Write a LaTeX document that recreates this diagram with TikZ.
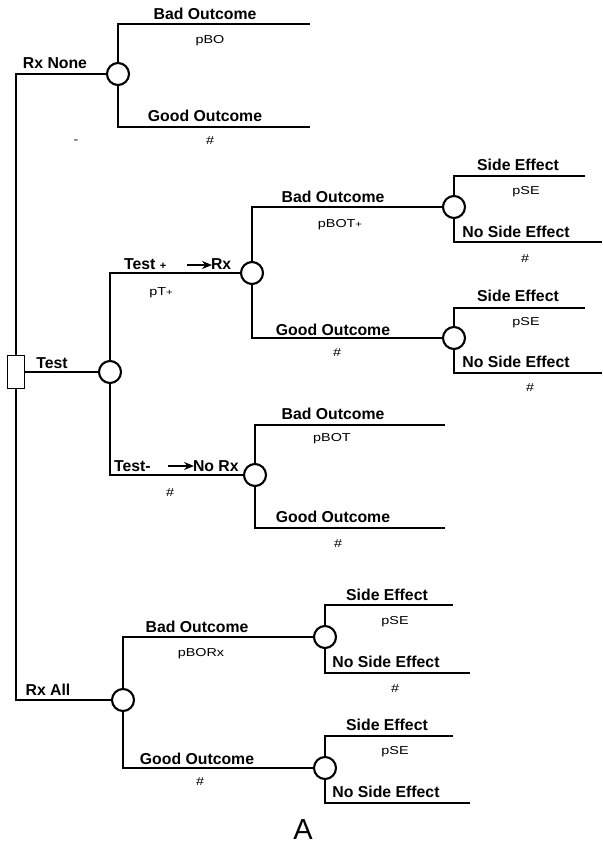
\documentclass[tikz,border=0pt]{standalone}
\usepackage{fontspec}
\setmainfont{Liberation Sans}
\newfontfamily\smallfam[FakeStretch=1.25]{Liberation Sans}
\usetikzlibrary{arrows.meta}
\begin{document}
\begin{tikzpicture}[x=1pt,y=-1pt,
  line width=2.1pt,
  chance/.style={circle,draw,fill=white,minimum size=22pt,inner sep=0pt,line width=2.1pt},
  decbox/.style={rectangle,draw,fill=white,minimum width=17pt,minimum height=33pt,inner sep=0pt,line width=1.9pt},
  lab/.style={font=\bfseries\fontsize{15.8}{17}\selectfont,inner sep=0pt},
  prob/.style={font=\smallfam\fontsize{11.5}{13}\selectfont,inner sep=0pt},
  arr/.style={line width=1.5pt,-{Stealth[length=10pt,width=8pt]}}]
\useasboundingbox (0,0) rectangle (602,845);
% nodes
\node[decbox] (dec) at (16,372) {};
\node[chance] (cNone) at (118,74) {};
\node[chance] (cTest) at (110,372) {};
\node[chance] (cTp) at (252,273) {};
\node[chance] (cTm) at (255,475) {};
\node[chance] (cAll) at (123,700) {};
\node[chance] (cTpB) at (454,207) {};
\node[chance] (cTpG) at (454,338) {};
\node[chance] (cAllB) at (325,637) {};
\node[chance] (cAllG) at (325,768) {};
% end points
\coordinate (eNoneB) at (310,24);
\coordinate (eNoneG) at (310,127);
\coordinate (eTpBs) at (585,176);
\coordinate (eTpBn) at (602,242);
\coordinate (eTpGs) at (585,308);
\coordinate (eTpGn) at (602,373);
\coordinate (eTmB) at (445,425);
\coordinate (eTmG) at (445,528);
\coordinate (eAllBs) at (453,605);
\coordinate (eAllBn) at (470,673);
\coordinate (eAllGs) at (453,736);
\coordinate (eAllGn) at (470,803);
% connectors
\draw (dec.north) |- (cNone.west);
\draw (dec.south) |- (cAll.west);
\draw (dec.east) -- (cTest.west);
\draw (cNone.north) |- (eNoneB);
\draw (cNone.south) |- (eNoneG);
\draw (cTest.north) |- (cTp.west);
\draw (cTest.south) |- (cTm.west);
\draw (cTp.north) |- (cTpB.west);
\draw (cTp.south) |- (cTpG.west);
\draw (cTpB.north) |- (eTpBs);
\draw (cTpB.south) |- (eTpBn);
\draw (cTpG.north) |- (eTpGs);
\draw (cTpG.south) |- (eTpGn);
\draw (cTm.north) |- (eTmB);
\draw (cTm.south) |- (eTmG);
\draw (cAll.north) |- (cAllB.west);
\draw (cAll.south) |- (cAllG.west);
\draw (cAllB.north) |- (eAllBs);
\draw (cAllB.south) |- (eAllBn);
\draw (cAllG.north) |- (eAllGs);
\draw (cAllG.south) |- (eAllGn);
% labels: Rx None branch
\node[lab] (lRxNone) at (55,63) {Rx None};
\node[lab] (lNoneB) at (205,14) {Bad Outcome};
\node[prob] (pNoneB) at (210,41) {pBO};
\node[lab] (lNoneG) at (205,116) {Good Outcome};
\node[prob] (pNoneG) at (210,141) {\#};
\node[prob] (dash) at (76,142) {-};
% Test branch
\node[lab] (lTest) at (52,363) {Test};
\node[lab,anchor=west] (lTp) at (123,264) {Test {\fontsize{11}{12}\selectfont +}};
\coordinate (aTp1) at (187,265);
\coordinate (aTp2) at (212,265);
\draw[arr] (aTp1) -- (aTp2);
\node[lab,anchor=west] (lRx) at (210,264) {Rx};
\node[prob] (pTp) at (161,293) {pT{\fontsize{9}{10}\selectfont +}};
\node[lab] (lTpB) at (333,197) {Bad Outcome};
\node[prob] (pTpB) at (340,225) {pBOT{\fontsize{9}{10}\selectfont +}};
\node[lab] (lTpG) at (333,330) {Good Outcome};
\node[prob] (pTpG) at (337,353) {\#};
\node[lab] (lTpBs) at (518,165) {Side Effect};
\node[prob] (pTpBs) at (526,192) {pSE};
\node[lab] (lTpBn) at (516,232) {No Side Effect};
\node[prob] (pTpBn) at (525,259) {\#};
\node[lab] (lTpGs) at (518,296) {Side Effect};
\node[prob] (pTpGs) at (526,323) {pSE};
\node[lab] (lTpGn) at (516,362) {No Side Effect};
\node[prob] (pTpGn) at (530,388) {\#};
\node[lab,anchor=west] (lTm) at (113,466) {Test-};
\coordinate (aTm1) at (168,466);
\coordinate (aTm2) at (194,466);
\draw[arr] (aTm1) -- (aTm2);
\node[lab,anchor=west] (lNoRx) at (192,466) {No Rx};
\node[prob] (pTm) at (170,493) {\#};
\node[lab] (lTmB) at (333,414) {Bad Outcome};
\node[prob] (pTmB) at (332,439) {pBOT};
\node[lab] (lTmG) at (333,517) {Good Outcome};
\node[prob] (pTmG) at (338,544) {\#};
% Rx All branch
\node[lab] (lRxAll) at (48,690) {Rx All};
\node[lab] (lAllB) at (197,627) {Bad Outcome};
\node[prob] (pAllB) at (201,654) {pBORx};
\node[lab] (lAllG) at (197,759) {Good Outcome};
\node[prob] (pAllG) at (200,782) {\#};
\node[lab] (lAllBs) at (387,595) {Side Effect};
\node[prob] (pAllBs) at (395,622) {pSE};
\node[lab] (lAllBn) at (386,662) {No Side Effect};
\node[prob] (pAllBn) at (395,689) {\#};
\node[lab] (lAllGs) at (387,725) {Side Effect};
\node[prob] (pAllGs) at (395,752) {pSE};
\node[lab] (lAllGn) at (386,792) {No Side Effect};
% caption
\node[font=\fontsize{29}{30}\selectfont,inner sep=0pt,anchor=base] (capA) at (303,839) {A};
\end{tikzpicture}
\end{document}
